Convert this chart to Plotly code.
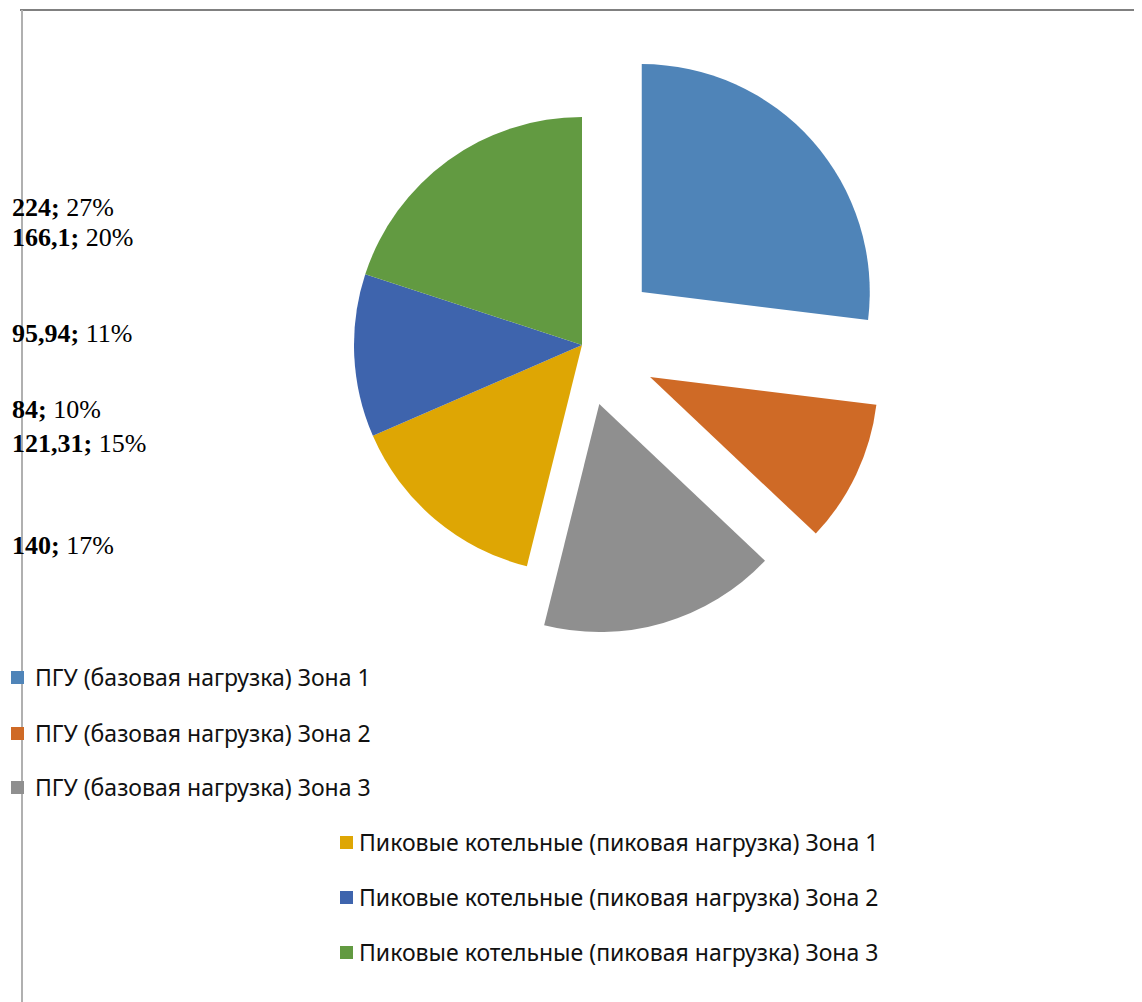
import plotly.graph_objects as go

labels = ["ПГУ (базовая нагрузка) Зона 1",
          "ПГУ (базовая нагрузка) Зона 2",
          "ПГУ (базовая нагрузка) Зона 3",
          "Пиковые котельные (пиковая нагрузка) Зона 1",
          "Пиковые котельные (пиковая нагрузка) Зона 2",
          "Пиковые котельные (пиковая нагрузка) Зона 3"]
values = [224, 84, 140, 121.31, 95.94, 166.1]
value_text = ["224", "84", "140", "121,31", "95,94", "166,1"]
pct_text = ["27%", "10%", "17%", "15%", "11%", "20%"]
colors = ["#4F84B8", "#CF6A26", "#8F8F8F", "#DEA604", "#3E64AD", "#629A41"]
pulls = [0.35, 0.33, 0.27, 0, 0, 0]

# page is drawn with an 8 px body margin; positions below are page pixels
OFF = 8
label_y_px = [208, 410, 545, 444, 333, 238]
legend_sq_x_px = [11, 11, 11, 340, 340, 340]
legend_tx_x_px = [33, 33, 33, 357, 357, 357]
legend_y_px = [677, 733, 787, 842, 897, 952]

W, H = 1142, 1002
cx, cy = 582, 345
half = 228 * (1 + max(pulls))


def px(x):
    return (x - OFF) / W


def py(y):
    return 1 - (y - OFF) / H


fig = go.Figure(go.Pie(
    labels=labels, values=values, sort=False, direction="clockwise",
    rotation=0, pull=pulls, textinfo="none", hoverinfo="label+value+percent",
    marker=dict(colors=colors, line=dict(width=0)),
    domain=dict(x=[px(cx - half), px(cx + half)],
                y=[py(cy + half), py(cy - half)]),
    showlegend=False,
))

ann = []
for v, p, yp in zip(value_text, pct_text, label_y_px):
    ann.append(dict(x=px(10), y=py(yp), xref="paper", yref="paper",
                    xanchor="left", yanchor="middle", showarrow=False,
                    text=f"<b>{v};</b> {p}",
                    font=dict(family="Liberation Serif", size=26, color="#000")))

shapes = [
    dict(type="line", xref="paper", yref="paper", x0=px(20), x1=px(1142), y0=py(10), y1=py(10),
         line=dict(color="#808080", width=2)),
    dict(type="line", xref="paper", yref="paper", x0=px(22), x1=px(22), y0=py(1002), y1=py(10),
         line=dict(color="#B0B0B0", width=2)),
    dict(type="line", xref="paper", yref="paper", x0=px(1139), x1=px(1139), y0=py(1002), y1=py(14),
         line=dict(color="#EEEEEE", width=1)),
]
for lab, col, sx, tx, yp in zip(labels, colors, legend_sq_x_px, legend_tx_x_px, legend_y_px):
    shapes.append(dict(type="rect", xref="paper", yref="paper",
                       x0=px(sx), x1=px(sx + 13), y0=py(yp + 7), y1=py(yp - 6),
                       fillcolor=col, line=dict(width=0)))
    ann.append(dict(x=px(tx), y=py(yp), xref="paper", yref="paper",
                    xanchor="left", yanchor="middle", showarrow=False, text=lab,
                    font=dict(family="Noto Sans", size=23, color="#111")))

fig.update_layout(width=W, height=H, margin=dict(l=0, r=0, t=0, b=0),
                  paper_bgcolor="white", plot_bgcolor="white",
                  annotations=ann, shapes=shapes)
fig.write_html("out.html")
